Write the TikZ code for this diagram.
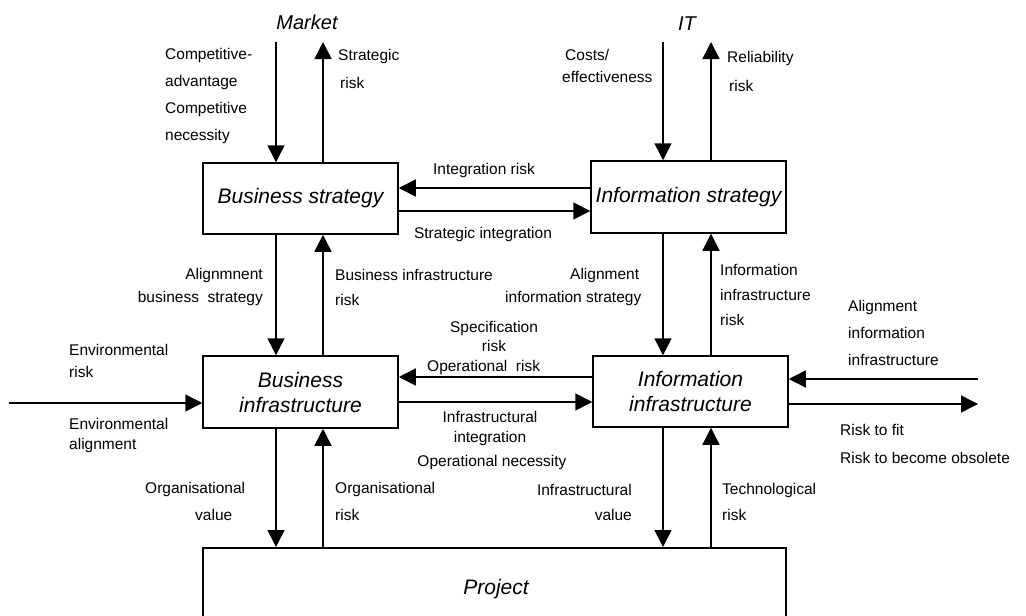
\documentclass[tikz,border=0pt]{standalone}
\usepackage{fontspec}
\setmainfont{Liberation Sans}
\usetikzlibrary{arrows.meta}
\begin{document}
\begin{tikzpicture}[x=1pt,y=-1pt,
  box/.style={draw,line width=1.5pt,inner sep=0pt,align=center,font=\fontsize{21}{25}\selectfont\itshape},
  arr/.style={line width=1.5pt,-{Triangle[length=17pt,width=17pt]}},
  lbl/.style={inner sep=0pt,font=\fontsize{15.5}{24}\selectfont},
  head/.style={inner sep=0pt,font=\fontsize{20}{22}\selectfont\itshape}]
\useasboundingbox (0,0) rectangle (1026,616);
% boxes
\node[box,minimum width=195pt,minimum height=71pt] (bs) at (300.5,198.5) {Business strategy};
\node[box,minimum width=195pt,minimum height=72pt] (is) at (688.5,197) {Information strategy};
\node[box,minimum width=195pt,minimum height=72pt] (bi) at (300.5,392) {Business\\infrastructure};
\node[box,minimum width=195pt,minimum height=71pt] (ii) at (690.5,391.5) {Information\\infrastructure};
\node[box,minimum width=583pt,minimum height=120pt,anchor=north] (pj) at (494.5,547) {};
\node[head,font=\fontsize{21}{25}\selectfont\itshape] (pjt) at (496,589) {Project};
% column and row coordinates
\coordinate (cA) at (276,0);
\coordinate (cB) at (323,0);
\coordinate (cC) at (663,0);
\coordinate (cD) at (711,0);
\coordinate (r1) at (0,188);
\coordinate (r2) at (0,211);
\coordinate (r3) at (0,377);
\coordinate (r4) at (0,402);
% free ends
\coordinate (mk1) at (276,42);
\coordinate (mk2) at (323,42);
\coordinate (it1) at (663,42);
\coordinate (it2) at (711,42);
\coordinate (env) at (9,403);
\coordinate (aii) at (978,379);
\coordinate (rtf) at (978,404);
% headings
\node[head] (mkt) at (307,22) {Market};
\node[head] (itl) at (687,24) {IT};
% vertical arrows
\draw[arr] (mk1) -- (cA |- bs.north);
\draw[arr] (cB |- bs.north) -- (mk2);
\draw[arr] (it1) -- (cC |- is.north);
\draw[arr] (cD |- is.north) -- (it2);
\draw[arr] (cA |- bs.south) -- (cA |- bi.north);
\draw[arr] (cB |- bi.north) -- (cB |- bs.south);
\draw[arr] (cC |- is.south) -- (cC |- ii.north);
\draw[arr] (cD |- ii.north) -- (cD |- is.south);
\draw[arr] (cA |- bi.south) -- (cA |- pj.north);
\draw[arr] (cB |- pj.north) -- (cB |- bi.south);
\draw[arr] (cC |- ii.south) -- (cC |- pj.north);
\draw[arr] (cD |- pj.north) -- (cD |- ii.south);
% horizontal arrows
\draw[arr] (is.west |- r1) -- (bs.east |- r1);
\draw[arr] (bs.east |- r2) -- (is.west |- r2);
\draw[arr] (ii.west |- r3) -- (bi.east |- r3);
\draw[arr] (bi.east |- r4) -- (ii.west |- r4);
\draw[arr] (env) -- (bi.west |- env);
\draw[arr] (aii) -- (ii.east |- aii);
\draw[arr] (ii.east |- rtf) -- (rtf);
% labels
\node[lbl,align=left,anchor=west,font=\fontsize{15.5}{27}\selectfont] (l1) at (165,96) {Competitive-\\advantage\\Competitive\\necessity};
\node[lbl,align=left,anchor=west,font=\fontsize{15.5}{28}\selectfont] (l2) at (338,69) {Strategic\\\hspace*{2pt}risk};
\node[lbl,align=left,anchor=west,font=\fontsize{15.5}{22}\selectfont] (l3) at (562,66) {\hspace*{3pt}Costs/\\effectiveness};
\node[lbl,align=left,anchor=west,font=\fontsize{15.5}{29}\selectfont] (l4) at (727,71.5) {Reliability\\\hspace*{2pt}risk};
\node[lbl] (l5) at (484,170) {Integration risk};
\node[lbl] (l6) at (483,234) {Strategic integration};
\node[lbl,align=right,anchor=east,font=\fontsize{15.5}{23}\selectfont] (l7) at (263,286.5) {Alignmnent\\business\ \ strategy};
\node[lbl,align=left,anchor=west,font=\fontsize{15.5}{25}\selectfont] (l8) at (335,287.5) {Business infrastructure\\risk};
\node[lbl,align=left,anchor=west,font=\fontsize{15.5}{23}\selectfont] (l9) at (505,286.5) {\hspace*{65pt}Alignment\\information strategy};
\node[lbl,align=left,anchor=west,font=\fontsize{15.5}{25}\selectfont] (l10) at (720,295) {Information\\infrastructure\\risk};
\node[lbl,align=left,anchor=west,font=\fontsize{15.5}{27}\selectfont] (l11) at (848,333) {Alignment\\information\\infrastructure};
\node[lbl,align=center,font=\fontsize{15.5}{19}\selectfont] (l12) at (494,336.5) {Specification\\risk};
\node[lbl,anchor=west] (l13) at (427,367) {Operational\ \ risk};
\node[lbl,align=left,anchor=west,font=\fontsize{15.5}{22}\selectfont] (l14) at (69,361) {Environmental\\risk};
\node[lbl,align=left,anchor=west,font=\fontsize{15.5}{20}\selectfont] (l15) at (69,435.5) {Environmental\\alignment};
\node[lbl,align=center,font=\fontsize{15.5}{20}\selectfont] (l16) at (490,428.5) {Infrastructural\\integration};
\node[lbl] (l17) at (492,462) {Operational necessity};
\node[lbl,align=left,anchor=west,font=\fontsize{15.5}{28}\selectfont] (l18) at (840,444) {Risk to fit\\Risk to become obsolete};
\node[lbl,align=left,anchor=west,font=\fontsize{15.5}{27}\selectfont] (l19) at (145,501.5) {Organisational\\\hspace*{50pt}value};
\node[lbl,align=left,anchor=west,font=\fontsize{15.5}{27}\selectfont] (l20) at (335,501.5) {Organisational\\risk};
\node[lbl,align=right,anchor=east,font=\fontsize{15.5}{25}\selectfont] (l21) at (632,502.5) {Infrastructural\\value};
\node[lbl,align=left,anchor=west,font=\fontsize{15.5}{26}\selectfont] (l22) at (722,502) {Technological\\risk};
\end{tikzpicture}
\end{document}
